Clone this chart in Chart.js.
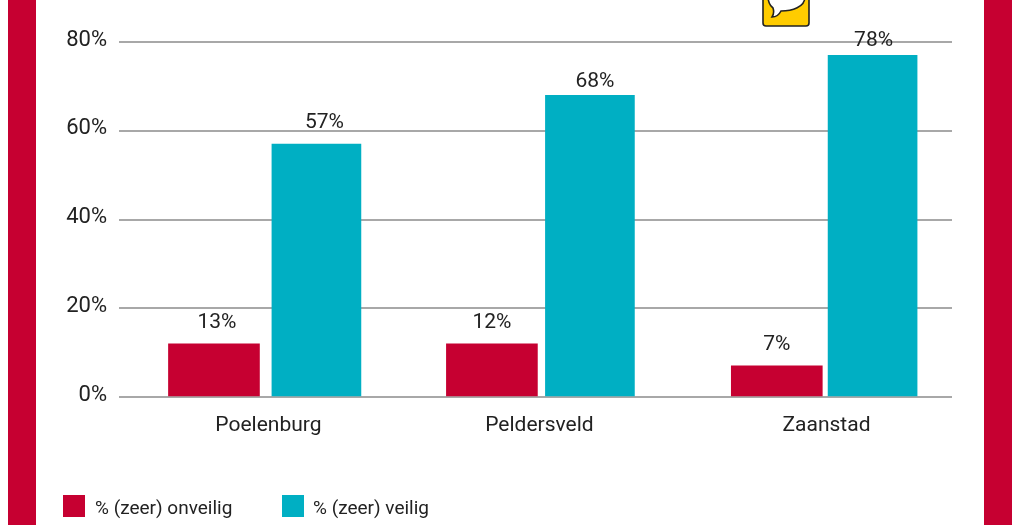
<!DOCTYPE html>
<html>
<head>
<meta charset="utf-8">
<script src="https://cdn.jsdelivr.net/npm/chart.js@4"></script>
<style>
html,body{margin:0;padding:0;background:#fff;width:1012px;height:525px;overflow:hidden}
.band{position:absolute;top:0;height:525px;background:#c60031}
#chartBox{position:absolute;left:0;top:0;width:1012px;height:525px}
.legend{position:absolute;top:494px;height:24px;font:19px Roboto,sans-serif;color:#222;line-height:28px;white-space:nowrap}
.sw{position:absolute;top:495px;width:22px;height:22px}
svg{position:absolute;left:762px;top:-12px}
</style>
</head>
<body>
<div class="band" style="left:8px;width:28px"></div>
<div class="band" style="left:984px;width:28px"></div>
<div id="chartBox"><canvas id="c" width="1012" height="525"></canvas></div>
<svg width="48" height="39" viewBox="0 0 48 39"><rect x="1" y="-6" width="46" height="44" rx="3" fill="#ffcc00" stroke="#222" stroke-width="1.6"/><path d="M6 8 C6 0 16 -2 25 -2 C35 -2 43 1 43 9 C43 19 30 23 19 23 C17 27 13 29 10 29 C12 26 12 23 11 20 C7 17 6 13 6 8Z" fill="#fff" stroke="#222" stroke-width="1.6"/></svg>
<div class="sw" style="left:63px;background:#c60031"></div>
<div class="legend" id="l1" style="left:95px"></div>
<div class="sw" style="left:282px;background:#00afc3"></div>
<div class="legend" id="l2" style="left:313px"></div>
<script>
const categories = ["Poelenburg", "Peldersveld", "Zaanstad"];
const seriesNames = ["% (zeer) onveilig", "% (zeer) veilig"];
const onveilig = [12, 12, 7];
const veilig = [57, 68, 77];
const onveiligLabels = ["13%", "12%", "7%"];
const veiligLabels = ["57%", "68%", "78%"];
const yTicks = [0, 20, 40, 60, 80];
const categoryAt = [0.538, 1.514, 2.548];
const onveiligAt = [0.342, 1.343, 2.369];
const veiligAt = [0.711, 1.696, 2.714];

document.getElementById('l1').textContent = seriesNames[0];
document.getElementById('l2').textContent = seriesNames[1];

const FONT = 'Roboto, sans-serif';
const labelNudge = [
  [[3, 10], [0, 10], [0, 10]],
  [[8, 10], [5, 2], [1, 3]]
];
const labelPlugin = {
  id: 'valueLabels',
  afterDatasetsDraw(chart) {
    const ctx = chart.ctx;
    const texts = [onveiligLabels, veiligLabels];
    ctx.save();
    ctx.font = '21px ' + FONT;
    ctx.fillStyle = '#222';
    ctx.textAlign = 'center';
    ctx.textBaseline = 'bottom';
    chart.data.datasets.forEach((d, i) => {
      chart.getDatasetMeta(i).data.forEach((bar, j) => {
        ctx.fillText(texts[i][j], bar.x + labelNudge[i][j][0], bar.y - 1 - labelNudge[i][j][1]);
      });
    });
    ctx.restore();
  }
};

new Chart(document.getElementById('c'), {
  type: 'bar',
  data: {
    datasets: [
      { label: seriesNames[0], backgroundColor: '#c60031', barThickness: 91, grouped: false,
        data: onveilig.map((v, i) => ({ x: onveiligAt[i], y: v })) },
      { label: seriesNames[1], backgroundColor: '#00afc3', barThickness: 89, grouped: false,
        data: veilig.map((v, i) => ({ x: veiligAt[i], y: v })) }
    ]
  },
  options: {
    responsive: false,
    animation: false,
    layout: { padding: { top: 42, right: 60, left: 0, bottom: 0 } },
    plugins: { legend: { display: false }, tooltip: { enabled: false } },
    scales: {
      x: {
        type: 'linear', min: 0, max: 3, offset: false,
        afterBuildTicks(s) { s.ticks = categoryAt.map(v => ({ value: v })); },
        afterFit(s) { s.height = 128; },
        grid: { display: false },
        border: { display: false },
        ticks: {
          autoSkip: false, maxRotation: 0, padding: 8, color: '#222',
          font: { family: FONT, size: 21 },
          callback(v, i) { return categories[i]; }
        }
      },
      y: {
        min: 0, max: 80,
        afterBuildTicks(s) { s.ticks = yTicks.map(v => ({ value: v })); },
        afterFit(s) { s.width = 119; },
        grid: { color: '#a8a8a8', lineWidth: 2, drawTicks: false },
        border: { display: false },
        ticks: {
          padding: 12, color: '#222', labelOffset: -2,
          font: { family: FONT, size: 22 },
          callback(v) { return v + '%'; }
        }
      }
    }
  },
  plugins: [labelPlugin]
});
</script>
</body>
</html>
